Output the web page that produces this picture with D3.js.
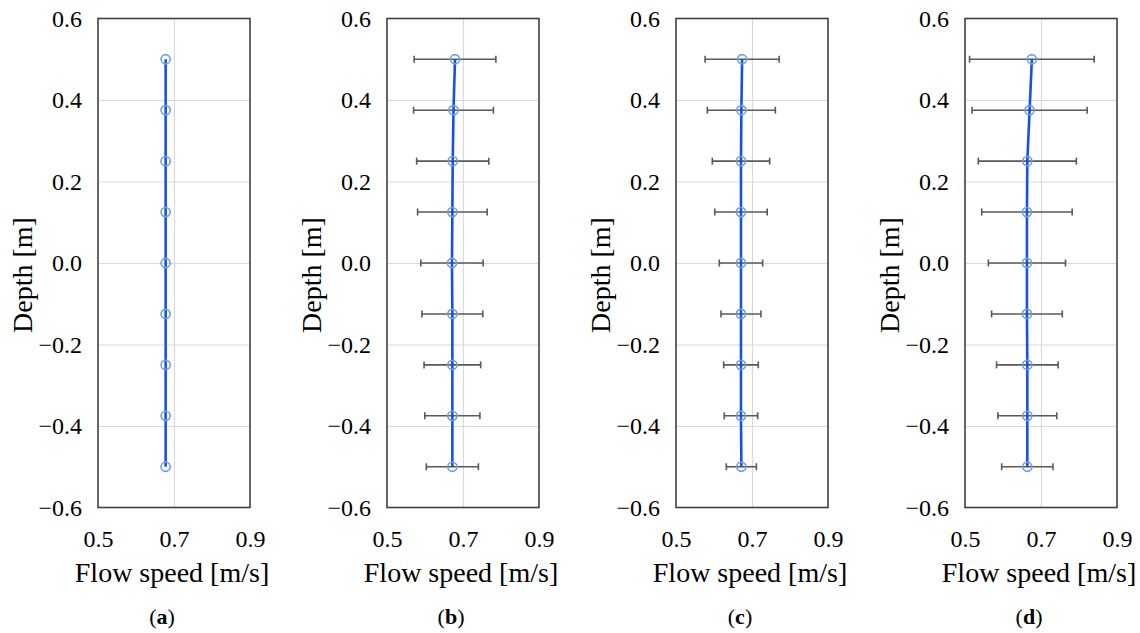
<!DOCTYPE html>
<html>
<head>
<meta charset="utf-8">
<script src="https://cdn.jsdelivr.net/npm/d3@7"></script>
</head>
<body style="margin:0; background:#fff">
<div id="chart"></div>
<script>
var depths = [0.5, 0.375, 0.25, 0.125, 0, -0.125, -0.25, -0.375, -0.5];

var speedA = [0.678, 0.678, 0.678, 0.678, 0.678, 0.678, 0.678, 0.678, 0.678];

var speedB = [0.679, 0.675, 0.673, 0.672, 0.671, 0.672, 0.672, 0.672, 0.672];
var errB = [0.1075, 0.105, 0.095, 0.0915, 0.082, 0.080, 0.0745, 0.0725, 0.0685];

var speedC = [0.674, 0.672, 0.671, 0.671, 0.671, 0.671, 0.671, 0.671, 0.672];
var errC = [0.0975, 0.0895, 0.0755, 0.069, 0.057, 0.0525, 0.0455, 0.044, 0.0395];

var speedD = [0.676, 0.670, 0.664, 0.663, 0.663, 0.663, 0.664, 0.664, 0.664];
var errD = [0.164, 0.1515, 0.129, 0.119, 0.1015, 0.093, 0.081, 0.0775, 0.0675];

var xTicks = [0.5, 0.7, 0.9];
var yTicks = [0.6, 0.4, 0.2, 0.0, -0.2, -0.4, -0.6];
var panelLabels = ["a", "b", "c", "d"];

var panels = [
  { speed: speedA, err: null },
  { speed: speedB, err: errB },
  { speed: speedC, err: errC },
  { speed: speedD, err: errD }
];

var W = 1140, H = 633;
var pw = 152, plotTop = 18.5, plotBottom = 507.5;
var lefts = [98, 387, 676, 965];
var serif = "'Liberation Serif'";

var svg = d3.select("#chart")
  .append("svg")
  .attr("width", W)
  .attr("height", H);

var fmt = function (v) {
  return d3.format(".1f")(v).replace("-", "\u2212");
};

panels.forEach(function (p, i) {
  var ph = plotBottom - plotTop;
  var x = d3.scaleLinear().domain([0.5, 0.9]).range([0, pw]);
  var y = d3.scaleLinear().domain([-0.6, 0.6]).range([ph, 0]);

  var g = svg.append("g")
    .attr("transform", "translate(" + lefts[i] + "," + plotTop + ")");

  // grid
  g.append("g")
    .call(d3.axisLeft(y).tickValues([0.4, 0.2, 0, -0.2, -0.4]).tickSize(-pw).tickFormat(""))
    .call(function (s) { s.select(".domain").remove(); })
    .selectAll("line").attr("stroke", "#d9d9d9").attr("stroke-width", 1.2);

  g.append("g")
    .call(d3.axisBottom(x).tickValues([0.7]).tickSize(ph).tickFormat(""))
    .call(function (s) { s.select(".domain").remove(); })
    .selectAll("line").attr("stroke", "#d9d9d9").attr("stroke-width", 1.2);

  // frame
  g.append("rect")
    .attr("width", pw)
    .attr("height", ph)
    .attr("fill", "none")
    .attr("stroke", "#404040")
    .attr("stroke-width", 1.6);

  // tick labels
  var ya = g.append("g")
    .call(d3.axisLeft(y).tickValues(yTicks).tickSize(0).tickPadding(16).tickFormat(fmt));
  ya.select(".domain").remove();
  ya.selectAll("text")
    .style("font-family", serif)
    .style("font-size", "24px")
    .attr("fill", "#000");

  var xa = g.append("g")
    .attr("transform", "translate(0," + ph + ")")
    .call(d3.axisBottom(x).tickValues(xTicks).tickSize(0).tickPadding(22).tickFormat(d3.format(".1f")));
  xa.select(".domain").remove();
  xa.selectAll("text")
    .style("font-family", serif)
    .style("font-size", "24px")
    .attr("fill", "#000");

  // axis titles
  g.append("text")
    .attr("transform", "translate(-66," + (ph / 2 + 12) + ") rotate(-90)")
    .attr("text-anchor", "middle")
    .style("font-family", serif)
    .style("font-size", "28px")
    .text("Depth [m]");

  g.append("text")
    .attr("x", pw / 2 - 2)
    .attr("y", ph + 74.5)
    .attr("text-anchor", "middle")
    .style("font-family", serif)
    .style("font-size", "28px")
    .text("Flow speed [m/s]");

  var lab = g.append("text")
    .attr("x", pw / 2 - 12)
    .attr("y", ph + 116)
    .attr("text-anchor", "middle")
    .style("font-family", serif)
    .style("font-size", "22px");
  lab.append("tspan").text("(");
  lab.append("tspan").style("font-weight", "bold").text(panelLabels[i]);
  lab.append("tspan").text(")");

  var pts = depths.map(function (d, k) {
    return { d: d, v: p.speed[k], e: p.err ? p.err[k] : 0 };
  });

  // error bars
  if (p.err) {
    var eb = g.append("g").selectAll("g")
      .data(pts)
      .enter()
      .append("g")
      .attr("stroke", "#595959")
      .attr("stroke-width", 1.6);
    eb.append("line")
      .attr("x1", function (d) { return x(d.v - d.e); })
      .attr("x2", function (d) { return x(d.v + d.e); })
      .attr("y1", function (d) { return y(d.d); })
      .attr("y2", function (d) { return y(d.d); });
    eb.append("line")
      .attr("x1", function (d) { return x(d.v - d.e); })
      .attr("x2", function (d) { return x(d.v - d.e); })
      .attr("y1", function (d) { return y(d.d) - 3.5; })
      .attr("y2", function (d) { return y(d.d) + 3.5; });
    eb.append("line")
      .attr("x1", function (d) { return x(d.v + d.e); })
      .attr("x2", function (d) { return x(d.v + d.e); })
      .attr("y1", function (d) { return y(d.d) - 3.5; })
      .attr("y2", function (d) { return y(d.d) + 3.5; });
  }

  // line
  g.append("path")
    .datum(pts)
    .attr("fill", "none")
    .attr("stroke", "#1a4fe6")
    .attr("stroke-width", 2.6)
    .attr("d", d3.line()
      .x(function (d) { return x(d.v); })
      .y(function (d) { return y(d.d); }));

  // markers
  g.append("g")
    .selectAll("circle")
    .data(pts)
    .enter()
    .append("circle")
    .attr("cx", function (d) { return x(d.v); })
    .attr("cy", function (d) { return y(d.d); })
    .attr("r", 4.6)
    .attr("fill", "none")
    .attr("stroke", "#6aa2dc")
    .attr("stroke-width", 1.6);
});
</script>
</body>
</html>
